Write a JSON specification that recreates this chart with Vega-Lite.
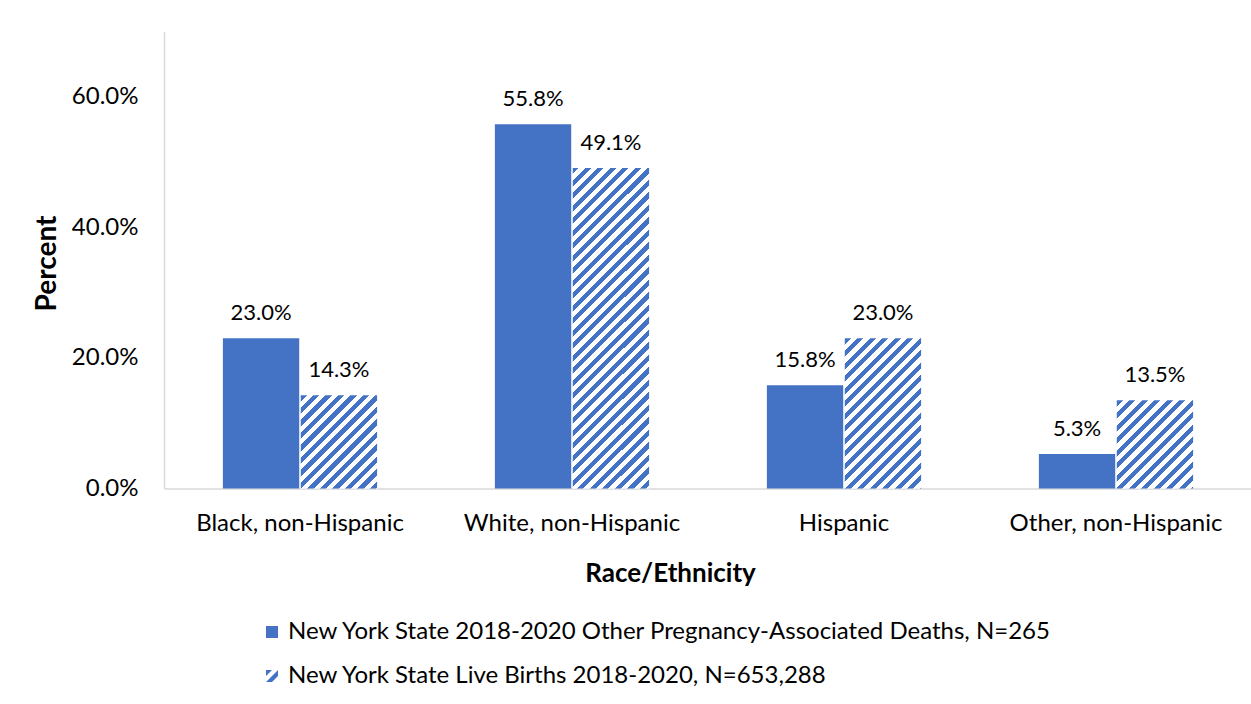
{
"$schema":"https://vega.github.io/schema/vega-lite/v6.json",
"width":1088,"height":457,
"autosize":{"type":"none"},
"padding":{"left":164,"top":31.5,"right":0,"bottom":215.5},
"background":"white",
"config":{"view":{"stroke":null},"font":"Lato"},
"data":{"values":[
{"cat":"Black, non-Hispanic","series":"New York State 2018-2020 Other Pregnancy-Associated Deaths, N=265","value":0.230},
{"cat":"Black, non-Hispanic","series":"New York State Live Births 2018-2020, N=653,288","value":0.143},
{"cat":"White, non-Hispanic","series":"New York State 2018-2020 Other Pregnancy-Associated Deaths, N=265","value":0.558},
{"cat":"White, non-Hispanic","series":"New York State Live Births 2018-2020, N=653,288","value":0.491},
{"cat":"Hispanic","series":"New York State 2018-2020 Other Pregnancy-Associated Deaths, N=265","value":0.158},
{"cat":"Hispanic","series":"New York State Live Births 2018-2020, N=653,288","value":0.230},
{"cat":"Other, non-Hispanic","series":"New York State 2018-2020 Other Pregnancy-Associated Deaths, N=265","value":0.053},
{"cat":"Other, non-Hispanic","series":"New York State Live Births 2018-2020, N=653,288","value":0.135}
]},
"encoding":{
"x":{"field":"cat","type":"nominal","sort":["Black, non-Hispanic","White, non-Hispanic","Hispanic","Other, non-Hispanic"],
 "scale":{"paddingInner":0.433,"paddingOuter":0.2165},
 "axis":{"title":"Race/Ethnicity","labelAngle":0,"ticks":false,"tickSize":0,"domainColor":"#d9d9d9","domainWidth":1.5,"labelFont":"Lato","labelFontSize":24,"labelColor":"#000","labelPadding":23,"labelLimit":0,"titleFont":"Lato","titleFontSize":26,"titleFontWeight":"bold","titleColor":"#000","titleX":506,"titleY":84.5,"titleBaseline":"middle","titleAlign":"center"}},
"xOffset":{"field":"series","type":"nominal","sort":["New York State 2018-2020 Other Pregnancy-Associated Deaths, N=265","New York State Live Births 2018-2020, N=653,288"],"scale":{"paddingInner":0.02,"paddingOuter":0}},
"y":{"field":"value","type":"quantitative","scale":{"domain":[0,0.7],"nice":false},
 "axis":{"title":"Percent","format":".1%","values":[0,0.2,0.4,0.6],"ticks":false,"tickSize":0,"grid":false,"domainColor":"#d9d9d9","domainWidth":1.5,"labelFont":"Lato","labelFontSize":24,"labelColor":"#000","labelPadding":26,"titleFont":"Lato","titleFontSize":28,"titleFontWeight":"bold","titleColor":"#000","titleX":-117,"titleY":231.5,"titleAngle":-90,"titleBaseline":"middle","titleAlign":"center"}}
},
"layer":[
{"mark":{"type":"bar"},
"encoding":{"fill":{
"condition":[
{"test":"datum.series==='New York State Live Births 2018-2020, N=653,288' && datum.cat==='Black, non-Hispanic'","value":{"gradient":"linear","x1":0,"y1":0,"x2":3.2803,"y2":4.0137,"stops":[
{"offset":0,"color":"#4472C4"},
{"offset":0.01,"color":"#4472C4"},{"offset":0.01,"color":"#fff"},
{"offset":0.02,"color":"#fff"},{"offset":0.02,"color":"#4472C4"},
{"offset":0.03,"color":"#4472C4"},{"offset":0.03,"color":"#fff"},
{"offset":0.04,"color":"#fff"},{"offset":0.04,"color":"#4472C4"},
{"offset":0.05,"color":"#4472C4"},{"offset":0.05,"color":"#fff"},
{"offset":0.06,"color":"#fff"},{"offset":0.06,"color":"#4472C4"},
{"offset":0.07,"color":"#4472C4"},{"offset":0.07,"color":"#fff"},
{"offset":0.08,"color":"#fff"},{"offset":0.08,"color":"#4472C4"},
{"offset":0.09,"color":"#4472C4"},{"offset":0.09,"color":"#fff"},
{"offset":0.10,"color":"#fff"},{"offset":0.10,"color":"#4472C4"},
{"offset":0.11,"color":"#4472C4"},{"offset":0.11,"color":"#fff"},
{"offset":0.12,"color":"#fff"},{"offset":0.12,"color":"#4472C4"},
{"offset":0.13,"color":"#4472C4"},{"offset":0.13,"color":"#fff"},
{"offset":0.14,"color":"#fff"},{"offset":0.14,"color":"#4472C4"},
{"offset":0.15,"color":"#4472C4"},{"offset":0.15,"color":"#fff"},
{"offset":0.16,"color":"#fff"},{"offset":0.16,"color":"#4472C4"},
{"offset":0.17,"color":"#4472C4"},{"offset":0.17,"color":"#fff"},
{"offset":0.18,"color":"#fff"},{"offset":0.18,"color":"#4472C4"},
{"offset":0.19,"color":"#4472C4"},{"offset":0.19,"color":"#fff"},
{"offset":0.20,"color":"#fff"},{"offset":0.20,"color":"#4472C4"},
{"offset":0.21,"color":"#4472C4"},{"offset":0.21,"color":"#fff"},
{"offset":0.22,"color":"#fff"},{"offset":0.22,"color":"#4472C4"},
{"offset":0.23,"color":"#4472C4"},{"offset":0.23,"color":"#fff"},
{"offset":0.24,"color":"#fff"},{"offset":0.24,"color":"#4472C4"},
{"offset":0.25,"color":"#4472C4"},{"offset":0.25,"color":"#fff"},
{"offset":0.26,"color":"#fff"},{"offset":0.26,"color":"#4472C4"},
{"offset":0.27,"color":"#4472C4"},{"offset":0.27,"color":"#fff"},
{"offset":0.28,"color":"#fff"},{"offset":0.28,"color":"#4472C4"}
]}},
{"test":"datum.series==='New York State Live Births 2018-2020, N=653,288' && datum.cat==='White, non-Hispanic'","value":{"gradient":"linear","x1":0,"y1":0,"x2":0.43922,"y2":1.84523,"stops":[
{"offset":0,"color":"#4472C4"},
{"offset":0.01,"color":"#4472C4"},{"offset":0.01,"color":"#fff"},
{"offset":0.02,"color":"#fff"},{"offset":0.02,"color":"#4472C4"},
{"offset":0.03,"color":"#4472C4"},{"offset":0.03,"color":"#fff"},
{"offset":0.04,"color":"#fff"},{"offset":0.04,"color":"#4472C4"},
{"offset":0.05,"color":"#4472C4"},{"offset":0.05,"color":"#fff"},
{"offset":0.06,"color":"#fff"},{"offset":0.06,"color":"#4472C4"},
{"offset":0.07,"color":"#4472C4"},{"offset":0.07,"color":"#fff"},
{"offset":0.08,"color":"#fff"},{"offset":0.08,"color":"#4472C4"},
{"offset":0.09,"color":"#4472C4"},{"offset":0.09,"color":"#fff"},
{"offset":0.10,"color":"#fff"},{"offset":0.10,"color":"#4472C4"},
{"offset":0.11,"color":"#4472C4"},{"offset":0.11,"color":"#fff"},
{"offset":0.12,"color":"#fff"},{"offset":0.12,"color":"#4472C4"},
{"offset":0.13,"color":"#4472C4"},{"offset":0.13,"color":"#fff"},
{"offset":0.14,"color":"#fff"},{"offset":0.14,"color":"#4472C4"},
{"offset":0.15,"color":"#4472C4"},{"offset":0.15,"color":"#fff"},
{"offset":0.16,"color":"#fff"},{"offset":0.16,"color":"#4472C4"},
{"offset":0.17,"color":"#4472C4"},{"offset":0.17,"color":"#fff"},
{"offset":0.18,"color":"#fff"},{"offset":0.18,"color":"#4472C4"},
{"offset":0.19,"color":"#4472C4"},{"offset":0.19,"color":"#fff"},
{"offset":0.20,"color":"#fff"},{"offset":0.20,"color":"#4472C4"},
{"offset":0.21,"color":"#4472C4"},{"offset":0.21,"color":"#fff"},
{"offset":0.22,"color":"#fff"},{"offset":0.22,"color":"#4472C4"},
{"offset":0.23,"color":"#4472C4"},{"offset":0.23,"color":"#fff"},
{"offset":0.24,"color":"#fff"},{"offset":0.24,"color":"#4472C4"},
{"offset":0.25,"color":"#4472C4"},{"offset":0.25,"color":"#fff"},
{"offset":0.26,"color":"#fff"},{"offset":0.26,"color":"#4472C4"},
{"offset":0.27,"color":"#4472C4"},{"offset":0.27,"color":"#fff"},
{"offset":0.28,"color":"#fff"},{"offset":0.28,"color":"#4472C4"},
{"offset":0.29,"color":"#4472C4"},{"offset":0.29,"color":"#fff"},
{"offset":0.30,"color":"#fff"},{"offset":0.30,"color":"#4472C4"},
{"offset":0.31,"color":"#4472C4"},{"offset":0.31,"color":"#fff"},
{"offset":0.32,"color":"#fff"},{"offset":0.32,"color":"#4472C4"},
{"offset":0.33,"color":"#4472C4"},{"offset":0.33,"color":"#fff"},
{"offset":0.34,"color":"#fff"},{"offset":0.34,"color":"#4472C4"},
{"offset":0.35,"color":"#4472C4"},{"offset":0.35,"color":"#fff"},
{"offset":0.36,"color":"#fff"},{"offset":0.36,"color":"#4472C4"},
{"offset":0.37,"color":"#4472C4"},{"offset":0.37,"color":"#fff"},
{"offset":0.38,"color":"#fff"},{"offset":0.38,"color":"#4472C4"},
{"offset":0.39,"color":"#4472C4"},{"offset":0.39,"color":"#fff"},
{"offset":0.40,"color":"#fff"},{"offset":0.40,"color":"#4472C4"},
{"offset":0.41,"color":"#4472C4"},{"offset":0.41,"color":"#fff"},
{"offset":0.42,"color":"#fff"},{"offset":0.42,"color":"#4472C4"},
{"offset":0.43,"color":"#4472C4"},{"offset":0.43,"color":"#fff"},
{"offset":0.44,"color":"#fff"},{"offset":0.44,"color":"#4472C4"},
{"offset":0.45,"color":"#4472C4"},{"offset":0.45,"color":"#fff"},
{"offset":0.46,"color":"#fff"},{"offset":0.46,"color":"#4472C4"},
{"offset":0.47,"color":"#4472C4"},{"offset":0.47,"color":"#fff"},
{"offset":0.48,"color":"#fff"},{"offset":0.48,"color":"#4472C4"},
{"offset":0.49,"color":"#4472C4"},{"offset":0.49,"color":"#fff"},
{"offset":0.50,"color":"#fff"},{"offset":0.50,"color":"#4472C4"},
{"offset":0.51,"color":"#4472C4"},{"offset":0.51,"color":"#fff"},
{"offset":0.52,"color":"#fff"},{"offset":0.52,"color":"#4472C4"},
{"offset":0.53,"color":"#4472C4"},{"offset":0.53,"color":"#fff"},
{"offset":0.54,"color":"#fff"},{"offset":0.54,"color":"#4472C4"},
{"offset":0.55,"color":"#4472C4"},{"offset":0.55,"color":"#fff"},
{"offset":0.56,"color":"#fff"},{"offset":0.56,"color":"#4472C4"},
{"offset":0.57,"color":"#4472C4"},{"offset":0.57,"color":"#fff"},
{"offset":0.58,"color":"#fff"},{"offset":0.58,"color":"#4472C4"},
{"offset":0.59,"color":"#4472C4"},{"offset":0.59,"color":"#fff"},
{"offset":0.60,"color":"#fff"},{"offset":0.60,"color":"#4472C4"},
{"offset":0.61,"color":"#4472C4"},{"offset":0.61,"color":"#fff"},
{"offset":0.62,"color":"#fff"},{"offset":0.62,"color":"#4472C4"},
{"offset":0.63,"color":"#4472C4"},{"offset":0.63,"color":"#fff"},
{"offset":0.64,"color":"#fff"},{"offset":0.64,"color":"#4472C4"}
]}},
{"test":"datum.series==='New York State Live Births 2018-2020, N=653,288' && datum.cat==='Hispanic'","value":{"gradient":"linear","x1":0,"y1":0,"x2":1.68094,"y2":3.30811,"stops":[
{"offset":0,"color":"#4472C4"},
{"offset":0.01,"color":"#4472C4"},{"offset":0.01,"color":"#fff"},
{"offset":0.02,"color":"#fff"},{"offset":0.02,"color":"#4472C4"},
{"offset":0.03,"color":"#4472C4"},{"offset":0.03,"color":"#fff"},
{"offset":0.04,"color":"#fff"},{"offset":0.04,"color":"#4472C4"},
{"offset":0.05,"color":"#4472C4"},{"offset":0.05,"color":"#fff"},
{"offset":0.06,"color":"#fff"},{"offset":0.06,"color":"#4472C4"},
{"offset":0.07,"color":"#4472C4"},{"offset":0.07,"color":"#fff"},
{"offset":0.08,"color":"#fff"},{"offset":0.08,"color":"#4472C4"},
{"offset":0.09,"color":"#4472C4"},{"offset":0.09,"color":"#fff"},
{"offset":0.10,"color":"#fff"},{"offset":0.10,"color":"#4472C4"},
{"offset":0.11,"color":"#4472C4"},{"offset":0.11,"color":"#fff"},
{"offset":0.12,"color":"#fff"},{"offset":0.12,"color":"#4472C4"},
{"offset":0.13,"color":"#4472C4"},{"offset":0.13,"color":"#fff"},
{"offset":0.14,"color":"#fff"},{"offset":0.14,"color":"#4472C4"},
{"offset":0.15,"color":"#4472C4"},{"offset":0.15,"color":"#fff"},
{"offset":0.16,"color":"#fff"},{"offset":0.16,"color":"#4472C4"},
{"offset":0.17,"color":"#4472C4"},{"offset":0.17,"color":"#fff"},
{"offset":0.18,"color":"#fff"},{"offset":0.18,"color":"#4472C4"},
{"offset":0.19,"color":"#4472C4"},{"offset":0.19,"color":"#fff"},
{"offset":0.20,"color":"#fff"},{"offset":0.20,"color":"#4472C4"},
{"offset":0.21,"color":"#4472C4"},{"offset":0.21,"color":"#fff"},
{"offset":0.22,"color":"#fff"},{"offset":0.22,"color":"#4472C4"},
{"offset":0.23,"color":"#4472C4"},{"offset":0.23,"color":"#fff"},
{"offset":0.24,"color":"#fff"},{"offset":0.24,"color":"#4472C4"},
{"offset":0.25,"color":"#4472C4"},{"offset":0.25,"color":"#fff"},
{"offset":0.26,"color":"#fff"},{"offset":0.26,"color":"#4472C4"},
{"offset":0.27,"color":"#4472C4"},{"offset":0.27,"color":"#fff"},
{"offset":0.28,"color":"#fff"},{"offset":0.28,"color":"#4472C4"},
{"offset":0.29,"color":"#4472C4"},{"offset":0.29,"color":"#fff"},
{"offset":0.30,"color":"#fff"},{"offset":0.30,"color":"#4472C4"},
{"offset":0.31,"color":"#4472C4"},{"offset":0.31,"color":"#fff"},
{"offset":0.32,"color":"#fff"},{"offset":0.32,"color":"#4472C4"},
{"offset":0.33,"color":"#4472C4"},{"offset":0.33,"color":"#fff"},
{"offset":0.34,"color":"#fff"},{"offset":0.34,"color":"#4472C4"},
{"offset":0.35,"color":"#4472C4"},{"offset":0.35,"color":"#fff"},
{"offset":0.36,"color":"#fff"},{"offset":0.36,"color":"#4472C4"},
{"offset":0.37,"color":"#4472C4"},{"offset":0.37,"color":"#fff"}
]}},
{"test":"datum.series==='New York State Live Births 2018-2020, N=653,288' && datum.cat==='Other, non-Hispanic'","value":{"gradient":"linear","x1":0,"y1":0,"x2":3.50891,"y2":4.05341,"stops":[
{"offset":0,"color":"#4472C4"},
{"offset":0.01,"color":"#4472C4"},{"offset":0.01,"color":"#fff"},
{"offset":0.02,"color":"#fff"},{"offset":0.02,"color":"#4472C4"},
{"offset":0.03,"color":"#4472C4"},{"offset":0.03,"color":"#fff"},
{"offset":0.04,"color":"#fff"},{"offset":0.04,"color":"#4472C4"},
{"offset":0.05,"color":"#4472C4"},{"offset":0.05,"color":"#fff"},
{"offset":0.06,"color":"#fff"},{"offset":0.06,"color":"#4472C4"},
{"offset":0.07,"color":"#4472C4"},{"offset":0.07,"color":"#fff"},
{"offset":0.08,"color":"#fff"},{"offset":0.08,"color":"#4472C4"},
{"offset":0.09,"color":"#4472C4"},{"offset":0.09,"color":"#fff"},
{"offset":0.10,"color":"#fff"},{"offset":0.10,"color":"#4472C4"},
{"offset":0.11,"color":"#4472C4"},{"offset":0.11,"color":"#fff"},
{"offset":0.12,"color":"#fff"},{"offset":0.12,"color":"#4472C4"},
{"offset":0.13,"color":"#4472C4"},{"offset":0.13,"color":"#fff"},
{"offset":0.14,"color":"#fff"},{"offset":0.14,"color":"#4472C4"},
{"offset":0.15,"color":"#4472C4"},{"offset":0.15,"color":"#fff"},
{"offset":0.16,"color":"#fff"},{"offset":0.16,"color":"#4472C4"},
{"offset":0.17,"color":"#4472C4"},{"offset":0.17,"color":"#fff"},
{"offset":0.18,"color":"#fff"},{"offset":0.18,"color":"#4472C4"},
{"offset":0.19,"color":"#4472C4"},{"offset":0.19,"color":"#fff"},
{"offset":0.20,"color":"#fff"},{"offset":0.20,"color":"#4472C4"},
{"offset":0.21,"color":"#4472C4"},{"offset":0.21,"color":"#fff"},
{"offset":0.22,"color":"#fff"},{"offset":0.22,"color":"#4472C4"},
{"offset":0.23,"color":"#4472C4"},{"offset":0.23,"color":"#fff"},
{"offset":0.24,"color":"#fff"},{"offset":0.24,"color":"#4472C4"},
{"offset":0.25,"color":"#4472C4"},{"offset":0.25,"color":"#fff"},
{"offset":0.26,"color":"#fff"},{"offset":0.26,"color":"#4472C4"},
{"offset":0.27,"color":"#4472C4"},{"offset":0.27,"color":"#fff"}
]}}
],
"value":"#4472C4"}}},
{"mark":{"type":"point","filled":true,"opacity":0,"color":"#4472C4"},
"encoding":{"shape":{"field":"series","type":"nominal",
"scale":{"domain":["New York State 2018-2020 Other Pregnancy-Associated Deaths, N=265","New York State Live Births 2018-2020, N=653,288"],
 "range":["square","M-1,-1L0,-1L-1,0ZM1,-1L1,0L0,1L-1,1Z"]},
"legend":{"title":null,"orient":"none","legendX":96,"legendY":588.5,"direction":"vertical","symbolSize":144,"symbolOpacity":1,"symbolFillColor":"#4472C4","symbolStrokeWidth":0,"labelFont":"Lato","labelFontSize":24,"labelColor":"#000","labelOffset":4,"rowPadding":20,"labelLimit":0}}}},
{"mark":{"type":"text","dy":-18,"baseline":"alphabetic","align":"center","font":"Lato","fontSize":22,"color":"#000"},
"encoding":{"text":{"field":"value","format":".1%"}}}
]
}
